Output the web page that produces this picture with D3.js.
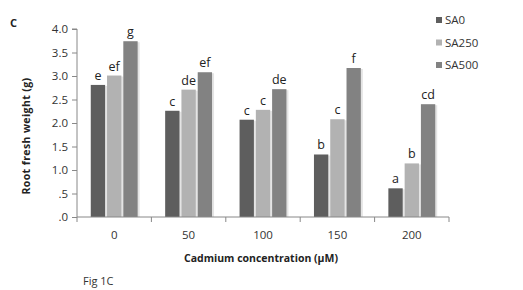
<!DOCTYPE html>
<html>
<head>
<meta charset="utf-8">
<script src="https://cdn.jsdelivr.net/npm/d3@7"></script>
<style>
  body { margin: 0; background: #fff; }
  text { font-family: "Open Sans", "DejaVu Sans", sans-serif; }
</style>
</head>
<body>
<div id="wrapper"></div>
<script>
const categories = ["0", "50", "100", "150", "200"];
const seriesNames = ["SA0", "SA250", "SA500"];
const sa0 = [2.81, 2.26, 2.07, 1.33, 0.61];
const sa250 = [3.01, 2.71, 2.28, 2.08, 1.14];
const sa500 = [3.74, 3.08, 2.72, 3.17, 2.40];
const letters0 = ["e", "c", "c", "b", "a"];
const letters250 = ["ef", "de", "c", "c", "b"];
const letters500 = ["g", "ef", "de", "f", "cd"];
const yTicks = [0, 0.5, 1, 1.5, 2, 2.5, 3, 3.5, 4];
const colors = ["#5e5e5e", "#b2b2b2", "#828282"];

function drawBar() {
	const values = [sa0, sa250, sa500];
	const letters = [letters0, letters250, letters500];

	const dimensions = {
		width: 523,
		height: 290,
		margin: { top: 29, right: 74, bottom: 73, left: 77 }
	};
	dimensions.boundedWidth = dimensions.width - dimensions.margin.left - dimensions.margin.right;
	dimensions.boundedHeight = dimensions.height - dimensions.margin.top - dimensions.margin.bottom;

	const wrapper = d3.select("#wrapper").append("svg")
		.attr("width", dimensions.width)
		.attr("height", dimensions.height);

	const bounds = wrapper.append("g")
		.attr("transform", `translate(${dimensions.margin.left},${dimensions.margin.top})`);

	const xScaler = d3.scaleBand()
		.domain(categories)
		.range([0, dimensions.boundedWidth])
		.paddingInner(0.37)
		.paddingOuter(0.185);

	const xInner = d3.scaleBand()
		.domain(seriesNames)
		.range([0, xScaler.bandwidth()])
		.paddingInner(0.12);

	const yScaler = d3.scaleLinear()
		.domain([0, 4])
		.range([dimensions.boundedHeight, 0]);

	const rows = [];
	categories.forEach((c, i) => {
		seriesNames.forEach((s, j) => {
			rows.push({ cat: c, series: s, value: values[j][i], letter: letters[j][i], idx: j });
		});
	});

	// soft shadow behind bars
	bounds.append("g").selectAll("rect")
		.data(rows)
		.join("rect")
		.attr("x", d => xScaler(d.cat) + xInner(d.series) + 2)
		.attr("y", d => yScaler(d.value) + 1)
		.attr("width", xInner.bandwidth())
		.attr("height", d => dimensions.boundedHeight - yScaler(d.value) - 1)
		.attr("fill", "#e4e4e4");

	bounds.append("g").selectAll("rect")
		.data(rows)
		.join("rect")
		.attr("x", d => xScaler(d.cat) + xInner(d.series))
		.attr("y", d => yScaler(d.value))
		.attr("width", xInner.bandwidth())
		.attr("height", d => dimensions.boundedHeight - yScaler(d.value))
		.attr("fill", d => colors[d.idx]);

	bounds.append("g").selectAll("text")
		.data(rows)
		.join("text")
		.attr("x", d => xScaler(d.cat) + xInner(d.series) + xInner.bandwidth() / 2)
		.attr("y", d => yScaler(d.value) - 5)
		.attr("text-anchor", "middle")
		.attr("font-size", "12.5px")
		.attr("fill", "#222")
		.text(d => d.letter);

	// y axis
	const yAxisGen = d3.axisLeft(yScaler)
		.tickValues(yTicks)
		.tickSize(5)
		.tickFormat(d => d3.format(".1f")(d).replace(/^0/, ""));
	const axisY = bounds.append("g").call(yAxisGen);
	axisY.select(".domain").attr("stroke", "#888").attr("d", `M-5,0H0V${dimensions.boundedHeight}`);
	axisY.selectAll(".tick line").attr("stroke", "#888");
	axisY.selectAll(".tick text").attr("font-size", "11.5px").attr("fill", "#333")
		.attr("font-family", "'Open Sans', sans-serif").attr("x", -9);

	// x axis with ticks between categories
	const xAxisGen = d3.axisBottom(xScaler).tickSize(0).tickPadding(14);
	const axisX = bounds.append("g")
		.attr("transform", `translate(0,${dimensions.boundedHeight})`)
		.call(xAxisGen);
	axisX.select(".domain").attr("stroke", "#888").attr("d", `M0,0H${dimensions.boundedWidth}`);
	axisX.selectAll(".tick text").attr("font-size", "11.5px").attr("fill", "#333")
		.attr("font-family", "'Open Sans', sans-serif");
	axisX.append("g").selectAll("line")
		.data(d3.range(categories.length + 1))
		.join("line")
		.attr("x1", i => i * dimensions.boundedWidth / categories.length)
		.attr("x2", i => i * dimensions.boundedWidth / categories.length)
		.attr("y1", 0)
		.attr("y2", 5)
		.attr("stroke", "#888");

	// axis titles
	wrapper.append("text")
		.attr("transform", `translate(30,136) rotate(-90)`)
		.attr("text-anchor", "middle")
		.attr("font-size", "10.5px")
		.attr("font-weight", "bold")
		.attr("letter-spacing", "0.4px")
		.attr("fill", "#222")
		.text("Root  fresh weight (g)");

	wrapper.append("text")
		.attr("x", 261)
		.attr("y", 262)
		.attr("text-anchor", "middle")
		.attr("font-size", "10.5px")
		.attr("font-weight", "bold")
		.attr("fill", "#222")
		.text("Cadmium concentration (µM)");

	wrapper.append("text")
		.attr("x", 10)
		.attr("y", 27)
		.attr("font-size", "11px")
		.attr("font-weight", "bold")
		.attr("fill", "#222")
		.text("C");

	wrapper.append("text")
		.attr("x", 83)
		.attr("y", 285)
		.attr("font-size", "11px")
		.attr("fill", "#333")
		.text("Fig 1C");

	// legend
	const legend = wrapper.append("g").attr("transform", "translate(436,21)");
	const items = legend.selectAll("g")
		.data(seriesNames)
		.join("g")
		.attr("transform", (d, i) => `translate(0,${i * 22.5})`);
	items.append("rect")
		.attr("x", 0).attr("y", -4)
		.attr("width", 6).attr("height", 6)
		.attr("fill", (d, i) => colors[i]);
	items.append("text")
		.attr("x", 9).attr("y", 3)
		.attr("font-size", "11.5px")
		.attr("fill", "#333")
		.text(d => d);
}

drawBar();
</script>
</body>
</html>
